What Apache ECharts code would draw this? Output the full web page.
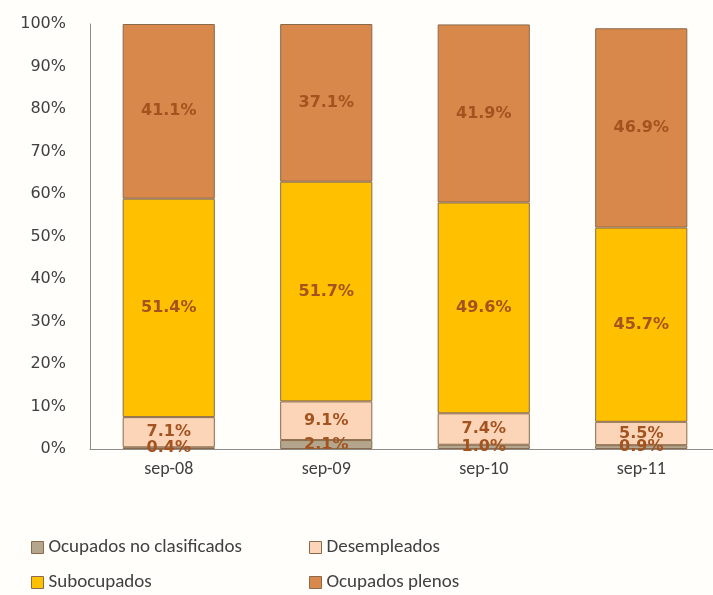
<!DOCTYPE html>
<html><head><meta charset="utf-8">
<script src="https://cdn.jsdelivr.net/npm/echarts@6/dist/echarts.min.js"></script>
<style>html,body{margin:0;padding:0;background:#fffefb;overflow:hidden}#c{width:720px;height:595px}</style>
</head><body><div id="c"></div>
<script>
const categories = ['sep-08','sep-09','sep-10','sep-11'];
const noClasificados = [0.4, 2.1, 1.0, 0.9];
const desempleados = [7.1, 9.1, 7.4, 5.5];
const subocupados = [51.4, 51.7, 49.6, 45.7];
const plenos = [41.1, 37.1, 41.9, 46.9];
const yTicks = [0,10,20,30,40,50,60,70,80,90,100];

const fVer = "'DejaVu Sans', sans-serif";
const fCal = "Carlito, 'Liberation Sans', sans-serif";
const labelStyle = {show:true, position:'inside', formatter: p => p.value.toFixed(1)+'%',
  color:'#a3531f', fontWeight:'bold', fontSize:16, fontFamily:fVer};
function mk(name, data, color){
  return {name, type:'bar', stack:'t', data, barWidth:'58.5%',
    itemStyle:{color, borderColor:'#8a6a4a', borderWidth:1}, label:labelStyle};
}
const chart = echarts.init(document.getElementById('c'));
const legText = {fontSize:19, color:'#404040', fontFamily:fCal};
function leg(name, left, top){
  return {data:[name], left, top, itemWidth:12, itemHeight:12, itemGap:5, textStyle:legText, icon:'rect',
    itemStyle:{borderColor:'#8a6a4a', borderWidth:1}};
}
chart.setOption({
  animation:false,
  backgroundColor:'#fffefb',
  grid:{left:90, top:24, right:0, height:425},
  xAxis:{type:'category', data:categories,
    axisLine:{lineStyle:{color:'#8c8c8c'}}, axisTick:{show:false},
    axisLabel:{fontSize:18, color:'#404040', margin:11, fontFamily:fCal}},
  yAxis:{type:'value', min:0, max:100, interval:10,
    axisLine:{show:true, lineStyle:{color:'#8c8c8c'}}, axisTick:{show:false}, splitLine:{show:false},
    axisLabel:{fontSize:16, color:'#404040', margin:24, formatter: v => yTicks.includes(v) ? v+'%' : '',
      fontFamily:fVer}},
  legend:[
    leg('Ocupados no clasificados', 26, 533),
    leg('Subocupados', 26, 568),
    leg('Desempleados', 304, 533),
    leg('Ocupados plenos', 304, 568)
  ],
  series:[
    mk('Ocupados no clasificados', noClasificados, '#b3a68c'),
    mk('Desempleados', desempleados, '#fcd5b8'),
    mk('Subocupados', subocupados, '#ffc000'),
    mk('Ocupados plenos', plenos, '#d8884b')
  ]
});
</script></body></html>
